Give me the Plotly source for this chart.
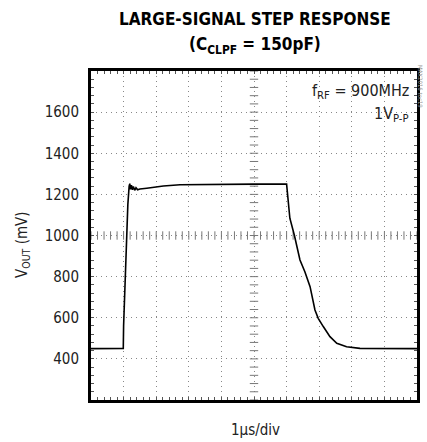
import numpy as np
import plotly.graph_objects as go

# ---- data ----
t_us = [0.0, 0.99, 1.00, 1.04, 1.09, 1.13, 1.17, 1.19, 1.21, 1.24, 1.27, 1.30, 1.34, 1.38,
        1.43, 1.50, 1.71, 2.00, 2.22, 2.73, 3.24, 4.00, 5.00, 6.00, 6.10, 6.24, 6.41,
        6.56, 6.72, 6.87, 6.97, 7.13, 7.33, 7.54, 7.84, 8.25, 9.00, 10.0]
v_mv = [450, 451, 560, 751, 1000, 1150, 1240, 1252, 1225, 1245, 1222, 1238, 1220, 1232,
        1222, 1226, 1230, 1236, 1241, 1247, 1248, 1250, 1250, 1250, 1084, 1000, 881,
        824, 751, 638, 597, 556, 508, 476, 459, 451, 450, 450]

y_ticks = [400, 600, 800, 1000, 1200, 1400, 1600]
y_labels = ["400", "600", "800", "1000", "1200", "1400", "1600"]

W, H = 427, 442
L, R, T, B = 91, 10, 71, 42
PW, PH = W - L - R, H - T - B
FONT = "DejaVu Sans Condensed, Liberation Sans Narrow, sans-serif"

fig = go.Figure()

# crosshair ticks (scope graticule)
xc = np.arange(0, 10.001, 0.2)
yc = np.arange(200, 1800.1, 40)
fig.add_trace(go.Scatter(x=xc, y=[1000] * len(xc), mode="markers", hoverinfo="skip",
                         marker=dict(symbol="line-ns", size=6, line=dict(color="#777", width=1))))
fig.add_trace(go.Scatter(x=[5] * len(yc), y=yc, mode="markers", hoverinfo="skip",
                         marker=dict(symbol="line-ew", size=6, line=dict(color="#777", width=1))))

fig.add_trace(go.Scatter(x=t_us, y=v_mv, mode="lines", line=dict(color="black", width=1.6),
                         hoverinfo="skip"))

axis_common = dict(showline=True, linecolor="black", linewidth=3, mirror="allticks",
                   ticks="inside", ticklen=3, tickcolor="#555", zeroline=False, automargin=False,
                   showgrid=True, gridcolor="#888", gridwidth=1, griddash="1px,4px")

fig.update_xaxes(range=[0, 10], dtick=1, tick0=0, showticklabels=False,
                 minor=dict(dtick=0.2, ticks="inside", ticklen=3, tickcolor="#555", showgrid=False),
                 **axis_common)
fig.update_yaxes(range=[200, 1800], tickvals=y_ticks, ticktext=y_labels,
                 ticklabelstandoff=6,
                 tickfont=dict(family=FONT, size=15, color="#222"),
                 minor=dict(dtick=40, tick0=200, ticks="inside", ticklen=3, tickcolor="#555", showgrid=False),
                 **axis_common)

def py(p):
    return 1 - (p - T) / PH
def px(p):
    return (p - L) / PW

# white box behind the legend text
fig.add_shape(type="rect", xref="paper", yref="paper",
              x0=px(313), x1=px(413), y0=py(125), y1=py(73),
              fillcolor="white", line=dict(width=0), layer="between")

ann = []
ann.append(dict(text="<b>LARGE-SIGNAL STEP RESPONSE</b>", x=px(255), y=py(19), xref="paper", yref="paper",
                showarrow=False, font=dict(family=FONT, size=17, color="black"), xanchor="center", yanchor="middle"))
ann.append(dict(text="<b>(C<sub>CLPF</sub> = 150pF)</b>", x=px(255), y=py(46), xref="paper", yref="paper",
                showarrow=False, font=dict(family=FONT, size=17, color="black"), xanchor="center", yanchor="middle"))
ann.append(dict(text="f<sub>RF</sub> = 900MHz", x=px(411), y=py(91), xref="paper", yref="paper",
                showarrow=False, font=dict(family=FONT, size=16, color="#222"), xanchor="right", yanchor="middle"))
ann.append(dict(text="1V<sub>P-P</sub>", x=px(411), y=py(114), xref="paper", yref="paper",
                showarrow=False, font=dict(family=FONT, size=16, color="#222"), xanchor="right", yanchor="middle"))
ann.append(dict(text="1µs/div", x=px(255), y=py(430), xref="paper", yref="paper",
                showarrow=False, font=dict(family=FONT, size=15, color="#222"), xanchor="center", yanchor="middle"))
ann.append(dict(text="V<sub>OUT</sub> (mV)", x=px(22), y=py(245), xref="paper", yref="paper", textangle=-90,
                showarrow=False, font=dict(family=FONT, size=15, color="#222"), xanchor="center", yanchor="middle"))
ann.append(dict(text="MAX2016 toc19", x=px(421), y=py(86), xref="paper", yref="paper", textangle=90,
                showarrow=False, font=dict(family=FONT, size=6, color="#999"), xanchor="center", yanchor="middle"))

fig.update_layout(width=W, height=H, margin=dict(l=L, r=R, t=T, b=B, pad=0, autoexpand=False),
                  paper_bgcolor="white", plot_bgcolor="white", showlegend=False,
                  annotations=ann, font=dict(family=FONT))

fig.write_html("out.html", config={"displayModeBar": False, "staticPlot": True},
               post_script="document.body.style.margin='0';document.body.style.overflow='hidden';")
